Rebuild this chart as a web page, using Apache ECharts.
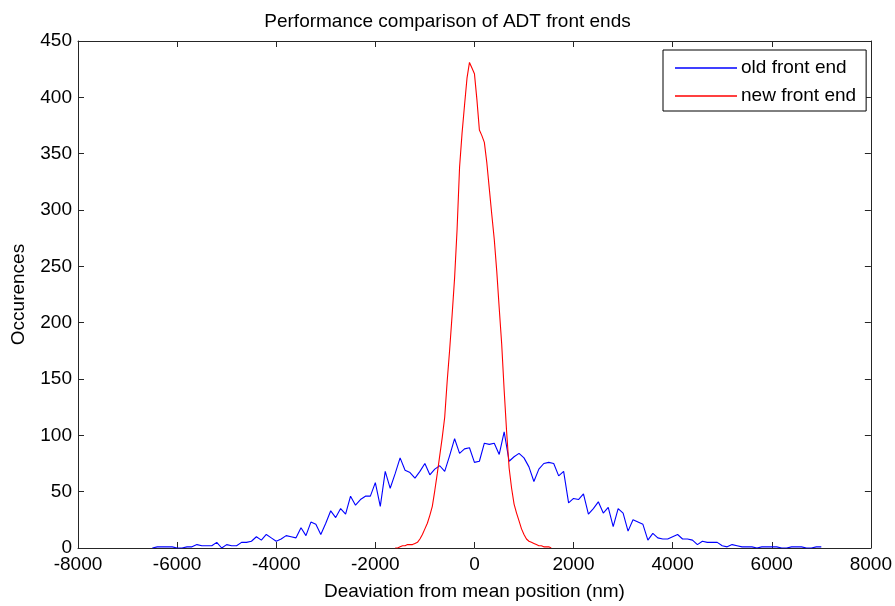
<!DOCTYPE html>
<html>
<head>
<meta charset="utf-8">
<script src="https://cdn.jsdelivr.net/npm/echarts@6/dist/echarts.min.js"></script>
<style>
  html, body { margin: 0; padding: 0; background: #fff; }
  #chart { width: 895px; height: 606px; }
</style>
</head>
<body>
<div id="chart"></div>
<script>
// Histogram of deviations (nm) for the old front end, 100 nm bins
const oldX = [-6500,-6400,-6300,-6200,-6100,-6000,-5900,-5800,-5700,-5600,-5500,-5400,-5300,-5200,-5100,-5000,-4900,-4800,-4700,-4600,-4500,-4400,-4300,-4200,-4100,-4000,-3900,-3800,-3700,-3600,-3500,-3400,-3300,-3200,-3100,-3000,-2900,-2800,-2700,-2600,-2500,-2400,-2300,-2200,-2100,-2000,-1900,-1800,-1700,-1600,-1500,-1400,-1300,-1200,-1100,-1000,-900,-800,-700,-600,-500,-400,-300,-200,-100,0,100,200,300,400,500,600,700,800,900,1000,1100,1200,1300,1400,1500,1600,1700,1800,1900,2000,2100,2200,2300,2400,2500,2600,2700,2800,2900,3000,3100,3200,3300,3400,3500,3600,3700,3800,3900,4000,4100,4200,4300,4400,4500,4600,4700,4800,4900,5000,5100,5200,5300,5400,5500,5600,5700,5800,5900,6000,6100,6200,6300,6400,6500,6600,6700,6800,6900,7000];
const oldY = [0,1,1,1,1,0,0,1,1,3,2,2,2,5,0,3,2,2,5,5,6,10,7,12,9,6,8,11,10,9,18,11,23,21,12,22,33,27,35,30,46,38,43,46,46,58,37,68,53,66,80,69,67,62,68,75,65,70,73,68,82,97,84,88,89,76,77,93,92,93,83,103,77,81,84,80,72,59,70,75,76,75,64,68,40,44,43,48,30,35,41,31,36,19,35,31,15,25,23,21,7,13,9,8,8,10,12,8,8,7,3,6,5,5,5,2,1,3,2,1,1,1,0,1,1,1,1,0,0,1,1,1,0,0,1,1];

// Histogram of deviations (nm) for the new front end, 50 nm bins
const newX = [-1600,-1550,-1500,-1450,-1400,-1350,-1300,-1250,-1200,-1150,-1100,-1050,-1000,-950,-900,-850,-800,-750,-700,-650,-600,-550,-500,-450,-400,-350,-300,-250,-200,-150,-100,-50,0,50,100,150,200,250,300,350,400,450,500,550,600,650,700,750,800,850,900,950,1000,1050,1100,1150,1200,1250,1300,1350,1400,1450,1500,1550];
const newY = [0,0,1,2,2,3,3,3,4,5,8,12,17,22,29,37,51,66,82,98,116,148,176,207,240,283,338,368,393,417,431,426,421,398,371,366,360,342,319,296,274,246,213,181,140,103,71,53,39,31,24,17,12,8,6,5,4,3,2,2,1,1,1,0];

const xTicks = [-8000,-6000,-4000,-2000,0,2000,4000,6000,8000];
const yTicks = [0,50,100,150,200,250,300,350,400,450];

const seriesNames = ['old front end', 'new front end'];
const FONT = 'Liberation Sans, Arial, sans-serif';
const FS = 19;

const zip = (xs, ys) => xs.map((x, i) => [x, ys[i]]);

const axisLine = { show: true, onZero: false, lineStyle: { color: '#262626', width: 1 } };
const tickIn = { show: true, inside: true, length: 6, lineStyle: { color: '#262626' } };

const chart = echarts.init(document.getElementById('chart'), null, { renderer: 'canvas' });
chart.setOption({
  animation: false,
  backgroundColor: '#ffffff',
  title: {
    text: 'Performance comparison of ADT front ends',
    left: 'center',
    top: 7,
    textStyle: { fontFamily: FONT, fontSize: FS, fontWeight: 'normal', color: '#000' }
  },
  grid: { left: 78, top: 41, right: 23, bottom: 57, containLabel: false },
  legend: {
    data: seriesNames,
    orient: 'vertical',
    left: 663,
    top: 50,
    icon: 'rect',
    itemWidth: 62,
    itemHeight: 1.5,
    itemGap: 8,
    padding: [8, 10, 5, 12],
    borderColor: '#000',
    borderWidth: 1,
    backgroundColor: '#fff',
    textStyle: { fontFamily: FONT, fontSize: FS, lineHeight: 20, color: '#000', padding: [0, 0, 0, -1] }
  },
  xAxis: [{
    type: 'value', min: -8000, max: 8000, interval: 2000,
    axisLine, axisTick: tickIn, splitLine: { show: false },
    axisLabel: { fontFamily: FONT, fontSize: FS, color: '#000', margin: 7,
      formatter: v => xTicks.includes(v) ? String(v) : '' },
    name: 'Deaviation from mean position (nm)',
    nameLocation: 'middle', nameGap: 34,
    nameTextStyle: { fontFamily: FONT, fontSize: FS, color: '#000' }
  }, {
    type: 'value', position: 'top', min: -8000, max: 8000, interval: 2000,
    axisLine, axisTick: tickIn, axisLabel: { show: false }, splitLine: { show: false }
  }],
  yAxis: [{
    type: 'value', min: 0, max: 450, interval: 50,
    axisLine, axisTick: tickIn, splitLine: { show: false },
    axisLabel: { fontFamily: FONT, fontSize: FS, color: '#000', margin: 6,
      formatter: v => yTicks.includes(v) ? String(v) : '' },
    name: 'Occurences', nameLocation: 'middle', nameGap: 50, nameRotate: 90,
    nameTextStyle: { fontFamily: FONT, fontSize: FS, color: '#000' }
  }, {
    type: 'value', position: 'right', min: 0, max: 450, interval: 50,
    axisLine, axisTick: tickIn, axisLabel: { show: false }, splitLine: { show: false }
  }],
  series: [{
    name: seriesNames[0], type: 'line', data: zip(oldX, oldY),
    symbol: 'none', lineStyle: { color: '#0000ff', width: 1.1 }, itemStyle: { color: '#0000ff' },
    z: 2
  }, {
    name: seriesNames[1], type: 'line', data: zip(newX, newY),
    symbol: 'none', lineStyle: { color: '#ff0000', width: 1.1 }, itemStyle: { color: '#ff0000' },
    z: 3
  }]
});
</script>
</body>
</html>
